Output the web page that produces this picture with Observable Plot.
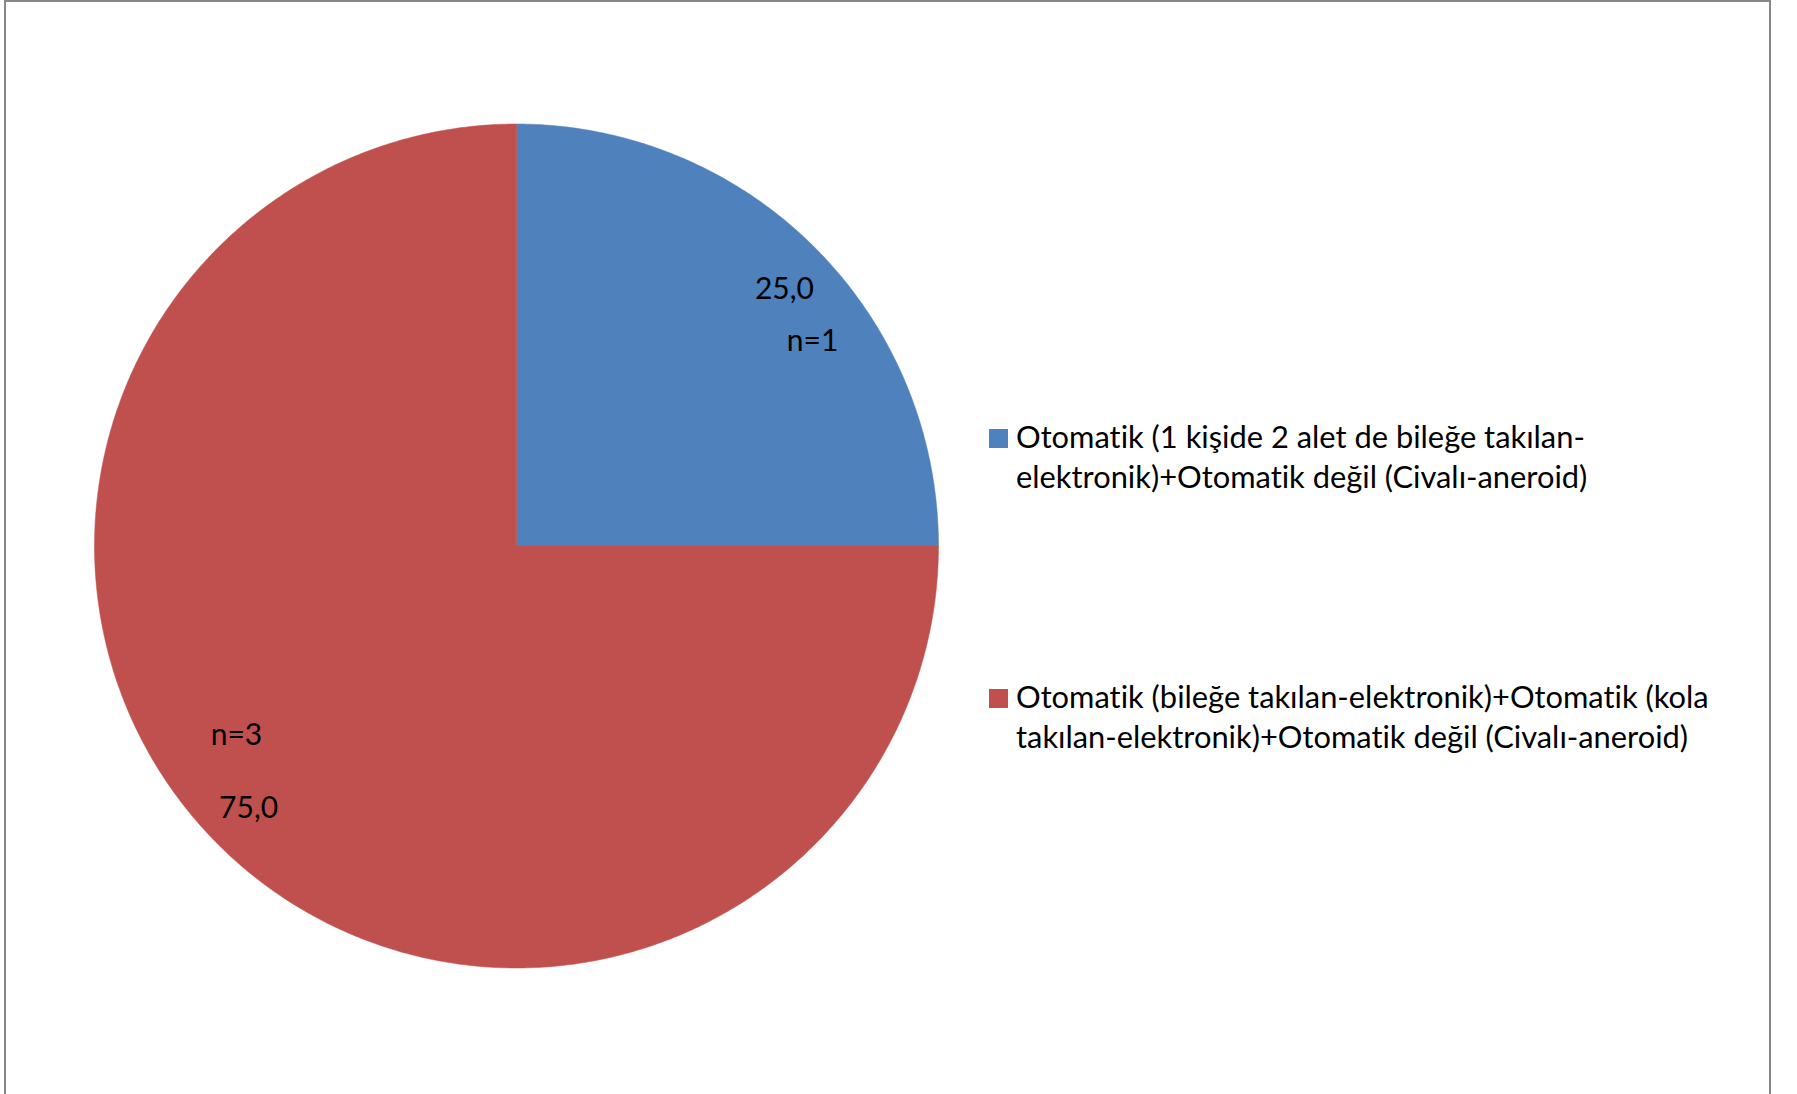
<!DOCTYPE html>
<html>
<head>
<meta charset="utf-8">
<script src="https://cdn.jsdelivr.net/npm/d3@7"></script>
<script src="https://cdn.jsdelivr.net/npm/@observablehq/plot@0.6"></script>
<style>
  html, body { margin: 0; padding: 0; background: #ffffff; }
  #wrap { position: relative; width: 1797px; height: 1094px; overflow: hidden; background: #ffffff; }
  #chart { position: absolute; left: 0; top: 0; }
  #frame { position: absolute; left: 4px; top: 0px; width: 1767px; height: 1200px; box-sizing: border-box;
           border: 2px solid #878787; pointer-events: none; }
  .legend-swatch { position: absolute; left: 989px; width: 19px; height: 19px; }
  svg text { font-variant-ligatures: none; font-feature-settings: "liga" 0, "clig" 0; }
</style>
</head>
<body>
<div id="wrap">
  <div id="chart"></div>
  <div id="legend"></div>
  <div id="frame"></div>
</div>
<script>
// ---------------- data ----------------
const categories = [
  "Otomatik (1 kişide 2 alet de bileğe takılan-elektronik)+Otomatik değil (Civalı-aneroid)",
  "Otomatik (bileğe takılan-elektronik)+Otomatik (kola takılan-elektronik)+Otomatik değil (Civalı-aneroid)"
];
const legendLines = [
  ["Otomatik (1 kişide 2 alet de bileğe takılan-", "elektronik)+Otomatik değil (Civalı-aneroid)"],
  ["Otomatik (bileğe takılan-elektronik)+Otomatik (kola", "takılan-elektronik)+Otomatik değil (Civalı-aneroid)"]
];
const percents = [25.0, 75.0];
const counts = [1, 3];
const colors = ["#4F81BD", "#C0504D"];

// ---------------- layout ----------------
const W = 1797, H = 1094;
const cx = 516, cy = 545.5, R = 422;        // pie centre / radius in pixels
const labelRadius = 0.884;                  // percentage labels, fraction of radius
const labelRotation = 0.9 * Math.PI / 180;  // small clockwise shift of label placement
const nLabelOffsets = [[28.2, 51.9], [-12.2, -73.5]]; // pixel offsets of "n=" labels from % labels
const fontFamily = "Lato, 'Open Sans', 'Liberation Sans', sans-serif";
const labelFontSize = 30;

// fit legend font size to the reference legend width
function measure(text, size) {
  const c = document.createElement("canvas").getContext("2d");
  c.font = `${size}px ${fontFamily}`;
  return c.measureText(text).width;
}
const targetWidth = 694; // width of "Otomatik (bileğe takılan-elektronik)+Otomatik (kola"
let fontSize = 100 * targetWidth / measure(legendLines[1][0], 100);
fontSize = Math.max(22, Math.min(34, fontSize));

// ---------------- pie geometry ----------------
const arcs = d3.pie().sort(null).value(d => d)(percents);
const rows = [];
arcs.forEach((a, i) => {
  const steps = Math.max(8, Math.ceil((a.endAngle - a.startAngle) / (Math.PI / 360)));
  rows.push({cat: categories[i], x: 0, y: 0});
  for (let s = 0; s <= steps; s++) {
    const t = a.startAngle + (a.endAngle - a.startAngle) * s / steps;
    rows.push({cat: categories[i], x: Math.sin(t), y: Math.cos(t)});
  }
  rows.push({cat: categories[i], x: 0, y: 0});
});

const fmt = v => v.toFixed(1).replace(".", ",");
const pctLabels = arcs.map((a, i) => {
  const m = (a.startAngle + a.endAngle) / 2 + labelRotation;
  return {x: labelRadius * Math.sin(m), y: labelRadius * Math.cos(m), text: fmt(percents[i])};
});
const nLabels = pctLabels.map((p, i) => ({
  x: p.x + nLabelOffsets[i][0] / R,
  y: p.y - nLabelOffsets[i][1] / R,
  text: "n=" + counts[i]
}));

const chart = Plot.plot({
  width: W,
  height: H,
  margin: 0,
  style: {background: "transparent", fontFamily: fontFamily},
  x: {domain: [-cx / R, (W - cx) / R], range: [0, W], axis: null},
  y: {domain: [cy / R, -(H - cy) / R], range: [0, H], axis: null},
  color: {domain: categories, range: colors},
  marks: [
    Plot.line(rows, {x: "x", y: "y", z: "cat", fill: "cat", stroke: "cat", strokeWidth: 0.5, curve: "linear"}),
    Plot.text(pctLabels, {x: "x", y: "y", text: "text", fill: "#000", fontSize: labelFontSize, textAnchor: "middle", dy: 3}),
    Plot.text(nLabels, {x: "x", y: "y", text: "text", fill: "#000", fontSize: labelFontSize, textAnchor: "middle", dy: 3})
  ]
});
document.getElementById("chart").appendChild(chart);

// ---------------- legend ----------------
const legend = document.getElementById("legend");
const baselines = [448, 708];   // baseline of first line of each entry
const lineGap = 40;
const svgNS = "http://www.w3.org/2000/svg";
const lsvg = document.createElementNS(svgNS, "svg");
lsvg.setAttribute("width", W);
lsvg.setAttribute("height", H);
lsvg.style.position = "absolute";
lsvg.style.left = "0px";
lsvg.style.top = "0px";
legendLines.forEach((lines, i) => {
  const sw = document.createElement("div");
  sw.className = "legend-swatch";
  sw.style.background = colors[i];
  sw.style.top = (baselines[i] - 19) + "px";
  legend.appendChild(sw);
  lines.forEach((ln, j) => {
    const t = document.createElementNS(svgNS, "text");
    t.setAttribute("x", 1016);
    t.setAttribute("y", baselines[i] + j * lineGap);
    t.setAttribute("font-family", fontFamily);
    t.setAttribute("font-size", fontSize);
    t.setAttribute("fill", "#000");
    t.textContent = ln;
    lsvg.appendChild(t);
  });
});
legend.appendChild(lsvg);
</script>
</body>
</html>
